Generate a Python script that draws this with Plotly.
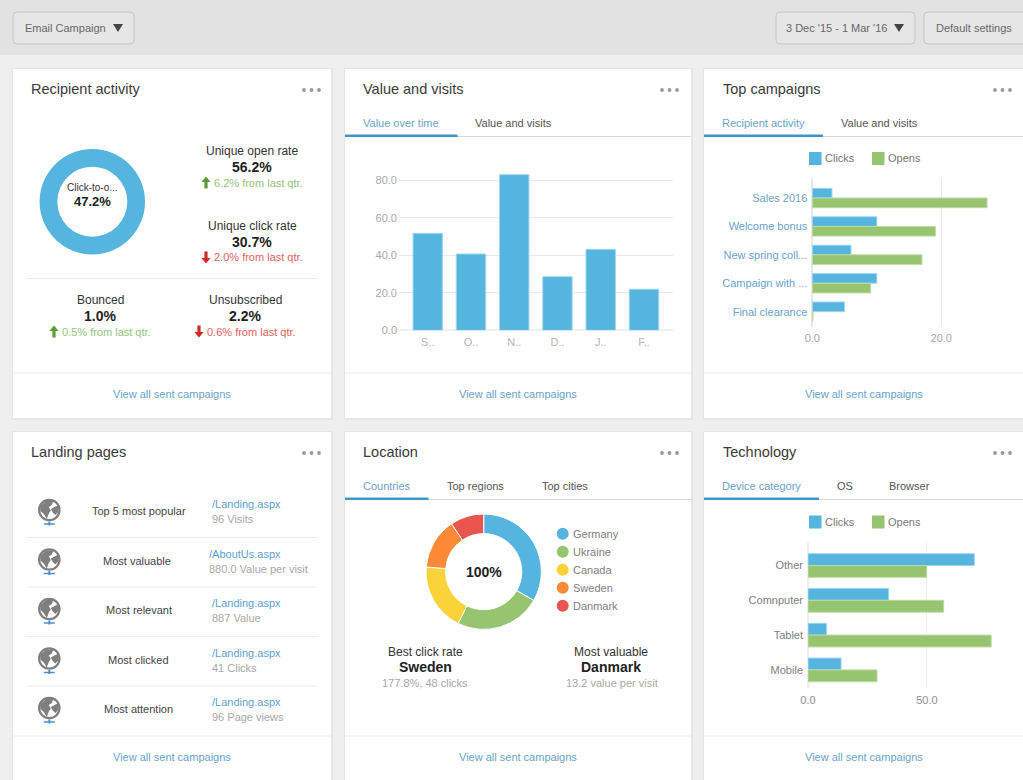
import plotly.graph_objects as go

W, H = 1023, 780
FONT = "Liberation Sans"

BLUE = "#55b5de"
GREEN = "#97c46f"
YELLOW = "#fbd237"
ORANGE = "#fc8a36"
RED = "#eb5550"
LINK = "#6aa3cb"
GREY = "#a8a8a8"
DARK = "#333333"

# chart data
months = ["S..", "O..", "N..", "D..", "J..", "F.."]
month_values = [51.7, 40.7, 83.0, 28.6, 43.2, 21.9]

campaigns = ["Sales 2016", "Welcome bonus", "New spring coll...", "Campaign with ...", "Final clearance"]
campaign_clicks = [3.05, 10.0, 6.0, 10.0, 5.0]
campaign_opens = [27.1, 19.1, 17.0, 9.05, 0.1]

devices = ["Other", "Comnputer", "Tablet", "Mobile"]
device_clicks = [69.9, 33.9, 7.8, 13.9]
device_opens = [49.9, 57.0, 77.0, 29.0]

countries = ["Germany", "Ukraine", "Canada", "Sweden", "Danmark"]
country_values = [33.3, 24.0, 19.0, 14.3, 9.4]
country_colors = [BLUE, GREEN, YELLOW, ORANGE, RED]

click_to_open = [47.2]

landing_names = ["Top 5 most popular", "Most valuable", "Most relevant", "Most clicked", "Most attention"]
landing_urls = ["/Landing.aspx", "/AboutUs.aspx", "/Landing.aspx", "/Landing.aspx", "/Landing.aspx"]
landing_stats = ["96 Visits", "880.0 Value per visit", "887 Value", "41 Clicks", "96 Page views"]


def px(x):
    return x / W


def py(y):
    return 1 - y / H


shapes = []
annotations = []


def rect(x0, y0, x1, y1, fill, line=None):
    shapes.append(dict(type="rect", xref="paper", yref="paper", x0=px(x0), x1=px(x1), y0=py(y0), y1=py(y1),
                       fillcolor=fill, line=dict(color=line or fill, width=1 if line else 0), layer="below"))


def hline(x0, x1, y, color="#ececec", width=1):
    shapes.append(dict(type="line", xref="paper", yref="paper", x0=px(x0), x1=px(x1), y0=py(y), y1=py(y),
                       line=dict(color=color, width=width), layer="below"))


def dot(x, y, r, fill, line=None, width=0):
    shapes.append(dict(type="circle", xref="paper", yref="paper", x0=px(x - r), x1=px(x + r), y0=py(y - r),
                       y1=py(y + r), fillcolor=fill, line=dict(color=line or fill, width=width), layer="below"))


def poly(points, fill):
    d = "M" + " L".join(f"{px(a):.5f},{py(b):.5f}" for a, b in points) + " Z"
    shapes.append(dict(type="path", xref="paper", yref="paper", path=d, fillcolor=fill,
                       line=dict(color=fill, width=0), layer="below"))


def label(x, y, text, size=11, color=DARK, anchor="center", bold=False):
    # left anchored annotations sit about a pixel right of x
    if anchor == "left":
        x -= 1.3
    annotations.append(dict(xref="paper", yref="paper", x=px(x), y=py(y), text=f"<b>{text}</b>" if bold else text,
                            showarrow=False, xanchor=anchor, yanchor="middle", borderpad=0,
                            font=dict(family=FONT, size=size, color=color)))


def button(x0, x1, text, text_x, triangle_x=None):
    r = 4
    y0, y1 = 12, 44
    d = (f"M{px(x0 + r)},{py(y0)} L{px(x1 - r)},{py(y0)} Q{px(x1)},{py(y0)} {px(x1)},{py(y0 + r)} "
         f"L{px(x1)},{py(y1 - r)} Q{px(x1)},{py(y1)} {px(x1 - r)},{py(y1)} L{px(x0 + r)},{py(y1)} "
         f"Q{px(x0)},{py(y1)} {px(x0)},{py(y1 - r)} L{px(x0)},{py(y0 + r)} Q{px(x0)},{py(y0)} {px(x0 + r)},{py(y0)} Z")
    shapes.append(dict(type="path", xref="paper", yref="paper", path=d, fillcolor="#e6e6e6",
                       line=dict(color="#c6c6c6", width=1), layer="below"))
    label(text_x, 28, text, size=11, color="#666666")
    if triangle_x:
        poly([(triangle_x - 5, 24), (triangle_x + 5, 24), (triangle_x, 32)], "#444444")


def card(x0, y0, x1, y1, title, title_x, dots_x, footer_x, footer_y):
    rect(x0 - 1, y0 - 1, x1 + 2, y1 + 2, "#e5e5e5")
    rect(x0, y0, x1, y1, "#ffffff")
    label(title_x, y0 + 20, title, size=14.5, color="#3a3a3a", anchor="left")
    for i in range(3):
        dot(dots_x + i * 7.5, y0 + 21, 1.9, "#999999")
    hline(x0, x1, footer_y - 21, "#eeeeee")
    label(footer_x, footer_y, "View all sent campaigns", size=11, color=LINK)


def tabs(x0, x1, active_end, y, names):
    hline(x0, x1, y + 2.5, "#d9d9d9", 1)
    rect(x0, y + 0.5, active_end, y + 3, "#3f97c6")
    for i, (cx, name) in enumerate(names):
        label(cx, y - 11.5, name, size=11, color=LINK if i == 0 else "#555555")


def arrow(x, y, up, color):
    s = 1 if up else -1
    poly([(x, y - 6 * s), (x + 4.6, y - 0.5 * s), (x + 1.6, y - 0.5 * s), (x + 1.6, y + 6 * s),
          (x - 1.6, y + 6 * s), (x - 1.6, y - 0.5 * s), (x - 4.6, y - 0.5 * s)], color)


def globe(x, y):
    dot(x, y, 10.2, "#ffffff", "#7f7f7f", 2.2)
    poly([(x - 9, y - 4), (x - 3, y - 9), (x + 4, y - 9), (x + 2.5, y - 5), (x - 0.5, y - 3), (x + 1.5, y + 0.5),
          (x - 0.5, y + 3.5), (x - 2.5, y + 9), (x - 5.5, y + 4), (x - 9, y + 1)], "#7f7f7f")
    poly([(x + 1.5, y - 1), (x + 9, y - 5), (x + 9.5, y + 1.5), (x + 6, y + 5), (x + 3.5, y + 2.5)], "#7f7f7f")
    hline(x - 5.5, x + 5.5, y + 14, "#4f8fcb", 1.5)
    shapes.append(dict(type="line", xref="paper", yref="paper", x0=px(x), x1=px(x), y0=py(y + 11.5), y1=py(y + 15.5),
                       line=dict(color="#4f8fcb", width=2), layer="below"))


def stat(cx, y, title, value, delta, delta_left, up):
    color = "#93c47d" if up else "#e8605f"
    label(cx, y, title, size=12, color="#333333")
    label(cx, y + 15.5, value, size=14, color="#222222", bold=True)
    label(delta_left, y + 31.5, delta, size=11, color=color, anchor="left")
    arrow(delta_left - 8, y + 31.5, up, "#5f9a37" if up else "#cc2e27")


def legend_pair(y):
    rect(809, y - 6.5, 821.5, y + 6.5, BLUE)
    label(825, y, "Clicks", size=11, color="#777777", anchor="left")
    rect(872, y - 6.5, 884.5, y + 6.5, GREEN)
    label(888, y, "Opens", size=11, color="#777777", anchor="left")


# page chrome
rect(0, 0, W, 55, "#e2e2e2")
button(13, 134, "Email Campaign", 65.5, 118)
button(776, 915, "3 Dec '15 - 1 Mar '16", 836.5, 899)
button(924, 1030, "Default settings", 973.5)

# cards
card(13, 69, 331, 418, "Recipient activity", 31.5, 304, 172, 394)
card(345, 69, 691, 418, "Value and visits", 363.5, 662, 518, 394)
card(704, 69, 1030, 418, "Top campaigns", 723.5, 995, 863.5, 394)
card(13, 432, 331, 785, "Landing pages", 31.5, 304, 172, 757)
card(345, 432, 691, 785, "Location", 363.5, 662, 518, 757)
card(704, 432, 1030, 785, "Technology", 723.5, 995, 863.5, 757)

tabs(345, 691, 457.5, 134, [(400.7, "Value over time"), (513.8, "Value and visits")])
tabs(704, 1023, 823, 134, [(763.5, "Recipient activity"), (879.7, "Value and visits")])
tabs(345, 691, 428.5, 497, [(386.8, "Countries"), (475.8, "Top regions"), (564.7, "Top cities")])
tabs(704, 1023, 819, 497, [(761.7, "Device category"), (844.8, "OS"), (909.2, "Browser")])

# recipient activity texts
label(92.3, 187, "Click-to-o...", size=10, color="#333333")
label(92.3, 202, "47.2%", size=13, color="#222222", bold=True)
stat(252, 151, "Unique open rate", "56.2%", "6.2% from last qtr.", 214, True)
stat(252, 226, "Unique click rate", "30.7%", "2.0% from last qtr.", 214, False)
hline(26, 318, 278.5)
stat(100, 300, "Bounced", "1.0%", "0.5% from last qtr.", 62, True)
stat(245, 300, "Unsubscribed", "2.2%", "0.6% from last qtr.", 207, False)

# landing pages rows
row_y = [510, 559.5, 609, 658.5, 708]
name_x = [138.7, 136.7, 138.6, 138, 138.4]
for i, name in enumerate(landing_names):
    globe(49.3, row_y[i])
    label(name_x[i], row_y[i] + 1.3, name, size=11, color="#444444")
    left = 209 if i == 1 else 212.3
    label(left, row_y[i] - 6, landing_urls[i], size=11, color="#5f9fd0", anchor="left")
    label(left, row_y[i] + 9, landing_stats[i], size=11, color=GREY, anchor="left")
    if i < 4:
        hline(26, 318, row_y[i] + 27.5)

# location texts
label(483.7, 571.5, "100%", size=14, color="#222222", bold=True)
for i, name in enumerate(countries):
    y = 533.7 + i * 18
    dot(562.7, y, 6, country_colors[i])
    label(573, y, name, size=11, color="#808080", anchor="left")
label(425.2, 651.7, "Best click rate", size=12, color="#333333")
label(425.5, 667, "Sweden", size=14, color="#222222", bold=True)
label(424.8, 683, "177.8%, 48 clicks", size=11, color=GREY)
label(611, 651.7, "Most valuable", size=12, color="#333333")
label(611, 667, "Danmark", size=14, color="#222222", bold=True)
label(612, 683, "13.2 value per visit", size=11, color=GREY)

legend_pair(158.5)
legend_pair(522)

fig = go.Figure()

# donuts
fig.add_trace(go.Pie(values=click_to_open, hole=0.664, sort=False, textinfo="none", hoverinfo="skip",
                     marker=dict(colors=[BLUE], line=dict(width=0)), showlegend=False,
                     domain=dict(x=[px(39.6), px(145)], y=[py(254.4), py(149)])))
fig.add_trace(go.Pie(labels=countries, values=country_values, hole=0.66, sort=False, direction="clockwise",
                     rotation=0, textinfo="none", marker=dict(colors=country_colors, line=dict(color="#ffffff", width=1)),
                     showlegend=False, domain=dict(x=[px(426), px(541.4)], y=[py(629.4), py(514)])))

bar_outline = dict(color="#a0d6ee", width=1)
green_outline = dict(color="#bddaa5", width=1)

fig.add_trace(go.Bar(x=months, y=month_values, marker=dict(color=BLUE, line=bar_outline),
                     showlegend=False, xaxis="x", yaxis="y"))
fig.add_trace(go.Bar(y=campaigns, x=campaign_clicks, orientation="h", name="Clicks",
                     marker=dict(color=BLUE, line=bar_outline), showlegend=False, xaxis="x2", yaxis="y2"))
fig.add_trace(go.Bar(y=campaigns, x=campaign_opens, orientation="h", name="Opens",
                     marker=dict(color=GREEN, line=green_outline), showlegend=False, xaxis="x2", yaxis="y2"))
fig.add_trace(go.Bar(y=devices, x=device_clicks, orientation="h", name="Clicks",
                     marker=dict(color=BLUE, line=bar_outline), showlegend=False, xaxis="x3", yaxis="y3"))
fig.add_trace(go.Bar(y=devices, x=device_opens, orientation="h", name="Opens",
                     marker=dict(color=GREEN, line=green_outline), showlegend=False, xaxis="x3", yaxis="y3"))

grid = "#e8e8e8"
tick_font = dict(family=FONT, size=11, color=GREY)

fig.update_layout(
    width=W, height=H, margin=dict(l=0, r=0, t=0, b=0, autoexpand=False), autosize=False,
    paper_bgcolor="#efefef", plot_bgcolor="rgba(0,0,0,0)",
    barmode="group", bargap=0.32, bargroupgap=0,
    font=dict(family=FONT), shapes=shapes, annotations=annotations,
    xaxis=dict(domain=[px(399), px(672.7)], anchor="y", type="category", range=[-0.665, 5.665], showgrid=False,
               showline=False, ticks="", ticklabelstandoff=4, tickfont=dict(family=FONT, size=11, color="#b4b4b4"),
               fixedrange=True),
    yaxis=dict(domain=[py(330.3), py(165.3)], anchor="x", range=[0, 88], tickvals=[0, 20, 40, 60, 80],
               tickformat=".1f", gridcolor=grid, zerolinecolor="#f0f0f0", ticks="", ticklabelstandoff=1,
               tickfont=tick_font, fixedrange=True),
    xaxis2=dict(domain=[px(812.3), px(1005)], anchor="y2", range=[0, 29.88], tickvals=[0, 20], tickformat=".1f",
                gridcolor=grid, zerolinecolor=grid, ticks="", ticklabelstandoff=3, tickfont=tick_font, fixedrange=True),
    yaxis2=dict(domain=[py(327), py(179)], anchor="x2", type="category", range=[4.54, -0.67], showgrid=False,
                ticks="", ticklabelstandoff=4, tickfont=dict(family=FONT, size=11, color=LINK), fixedrange=True),
    xaxis3=dict(domain=[px(808), px(1005)], anchor="y3", range=[0, 82.8], tickvals=[0, 50], tickformat=".1f",
                gridcolor="#eeeeee", zerolinecolor="#eeeeee", ticks="", ticklabelstandoff=4,
                tickfont=dict(family=FONT, size=11, color="#909090"), fixedrange=True),
    yaxis3=dict(domain=[py(688), py(542.3)], anchor="x3", type="category", range=[3.52, -0.667], showgrid=False,
                ticks="", ticklabelstandoff=4, tickfont=dict(family=FONT, size=11, color="#808080"), fixedrange=True),
)

fig.write_html("out.html", config=dict(displayModeBar=False),
               post_script="document.body.style.margin='0';document.body.style.overflow='hidden';")
